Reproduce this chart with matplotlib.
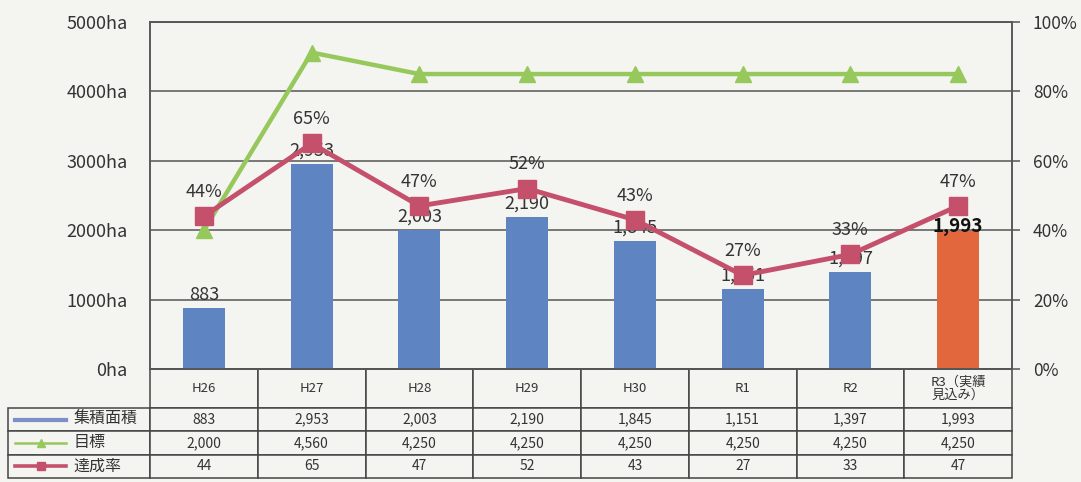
import numpy as np
import matplotlib
matplotlib.use("Agg")
import matplotlib.pyplot as plt

plt.rcParams['font.family'] = ['Noto Sans CJK JP', 'DejaVu Sans']

# data
years = ['H26', 'H27', 'H28', 'H29', 'H30', 'R1', 'R2', 'R3（実績\n見込み）']
area = [883, 2953, 2003, 2190, 1845, 1151, 1397, 1993]      # 集積面積 (ha)
target = [2000, 4560, 4250, 4250, 4250, 4250, 4250, 4250]   # 目標 (ha)
rate = [44, 65, 47, 52, 43, 27, 33, 47]                     # 達成率 (%)
row_names = ['集積面積', '目標', '達成率']

BLUE = '#5f84c2'
ORANGE = '#e2673c'
GREEN = '#97c85c'
RED = '#c4506c'
BG = '#f4f4f1'
GRID = '#555555'
TXT = '#333333'

W, H = 1081, 482
fig = plt.figure(figsize=(W / 100, H / 100), dpi=100, facecolor=BG)
# plot area in pixels: x 150..1012, y 22..369
ax = fig.add_axes([150 / W, 1 - 369 / H, 862 / W, 347 / H])
ax.set_facecolor(BG)

x = np.arange(len(years))
colors = [BLUE] * (len(years) - 1) + [ORANGE]
ax.bar(x, area, width=0.39, color=colors, zorder=2)
ax.plot(x, target, color=GREEN, lw=3.2, marker='^', ms=11, zorder=3)

ax.set_xlim(-0.5, len(years) - 0.5)
ax.set_ylim(0, 5000)
ax.set_yticks(range(0, 5001, 1000))
ax.set_yticklabels([f'{v}ha' for v in range(0, 5001, 1000)])
ax.yaxis.grid(True, color=GRID, lw=1.1)
ax.set_axisbelow(True)
ax.set_xticks([])
ax.tick_params(axis='y', length=0, pad=16, labelsize=13, labelcolor=TXT)
for s in ax.spines.values():
    s.set_color(GRID)
    s.set_linewidth(1.1)

# bar value labels
for xi, v in zip(x[:-1], area[:-1]):
    ax.annotate(f'{v:,}', (xi, v), xytext=(0, 3), textcoords='offset points',
                ha='center', va='bottom', fontsize=13, color=TXT, zorder=4)
ax.annotate(f'{area[-1]:,}', (x[-1], area[-1]), xytext=(0, 3), textcoords='offset points',
            ha='center', va='center', fontsize=13.5, fontweight='bold', color='#111111', zorder=4)

# achievement rate on the right axis
ax2 = ax.twinx()
ax2.plot(x, rate, color=RED, lw=3.5, marker='s', ms=13, zorder=5)
ax2.set_ylim(0, 100)
ax2.set_yticks(range(0, 101, 20))
ax2.set_yticklabels([f'{v}%' for v in range(0, 101, 20)])
ax2.tick_params(axis='y', length=6, width=1.1, color=GRID, pad=9, labelsize=12.5, labelcolor=TXT)
for s in ax2.spines.values():
    s.set_color(GRID)
    s.set_linewidth(1.1)
for xi, r in zip(x, rate):
    ax2.annotate(f'{r}%', (xi, r), xytext=(0, 11), textcoords='offset points',
                 ha='center', va='bottom', fontsize=13, color=TXT)

# data table below the plot: x 8..1012, y 369..478
label_w = 142
col_w = 862 / len(years)
head_h, row_h = 39, 23.3
tab_w = label_w + col_w * len(years)
tab_h = head_h + row_h * 3

cell_text = [
    [row_names[0]] + [f'{v:,}' for v in area],
    [row_names[1]] + [f'{v:,}' for v in target],
    [row_names[2]] + [str(v) for v in rate],
]
tbl = ax.table(cellText=cell_text, colLabels=[''] + years, cellLoc='center',
               colWidths=[label_w / tab_w] + [col_w / tab_w] * len(years),
               bbox=[-label_w / 862, -tab_h / 347, tab_w / 862, tab_h / 347])
tbl.auto_set_font_size(False)
for (r, c), cell in tbl.get_celld().items():
    cell.set_facecolor(BG)
    cell.set_edgecolor('#444444')
    cell.set_linewidth(1.1)
    cell.set_height(head_h if r == 0 else row_h)
    t = cell.get_text()
    t.set_color(TXT)
    if r == 0:
        t.set_fontsize(9.5)
        t.set_linespacing(1.0)
    elif c == 0:
        t.set_fontsize(11.5)
        t.set_horizontalalignment('left')
        cell.PAD = 0.46
    else:
        t.set_fontsize(10)
tbl[0, 0].visible_edges = 'open'

# legend swatches in the row label cells
sx = [(15 - 150) / 862, (66 - 150) / 862]
sw_mid = (sx[0] + sx[1]) / 2
for i, (col, mk, lw) in enumerate([('#7d8fc8', None, 3), (GREEN, '^', 1.8), (RED, 's', 2.6)]):
    yc = (-head_h - row_h * (i + 0.5)) / 347
    ax.plot(sx, [yc, yc], color=col, lw=lw, transform=ax.transAxes, clip_on=False)
    if mk:
        ax.plot([sw_mid], [yc], color=col, marker=mk, ms=6, transform=ax.transAxes, clip_on=False)

fig.savefig('out.png', dpi=100, facecolor=BG)
